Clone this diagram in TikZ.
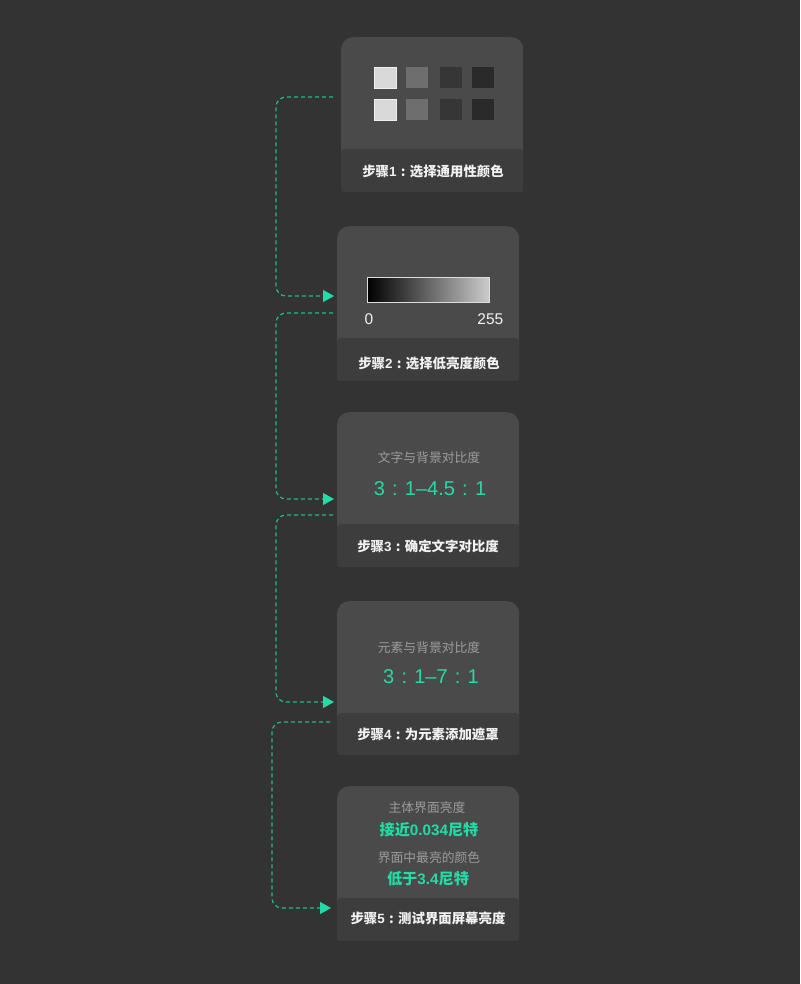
\documentclass[tikz,border=0pt]{standalone}
\usepackage{fontspec}
\setmainfont{Noto Sans CJK SC}
\newfontfamily\hv{Liberation Sans}
\newcommand{\fwcolon}{\makebox[1em][c]{:}}
\usetikzlibrary{arrows.meta}
\definecolor{bg}{HTML}{333333}
\definecolor{cardtop}{HTML}{4A4A4A}
\definecolor{cardbot}{HTML}{3D3D3D}
\definecolor{accent}{HTML}{22DCA6}
\definecolor{linec}{HTML}{21B98C}
\definecolor{greytxt}{HTML}{9C9C9C}
\definecolor{whitetxt}{HTML}{F2F2F2}
\definecolor{swa}{HTML}{D9D9D9}
\definecolor{swaedge}{HTML}{F0F0F0}
\definecolor{swb}{HTML}{6E6E6E}
\definecolor{swc}{HTML}{363636}
\definecolor{swd}{HTML}{2A2A2A}
\definecolor{gradend}{HTML}{CCCCCC}
\definecolor{gradedge}{HTML}{DDDDDD}
\tikzset{
  cardbody/.style={fill=cardtop, rounded corners=12pt, minimum width=182pt, anchor=north west, inner sep=0pt},
  cardfoot/.style={fill=cardbot, rounded corners=3pt, minimum width=182pt, anchor=north west, inner sep=0pt},
  foottext/.style={text=whitetxt, font=\fontsize{13.4}{16}\selectfont\bfseries, inner sep=0pt},
  greylabel/.style={text=greytxt, font=\fontsize{12.8}{15}\selectfont, inner sep=0pt},
  bignum/.style={text=accent, font=\hv\fontsize{20}{24}\selectfont, inner sep=0pt},
  greennum/.style={text=accent, font=\fontsize{15.2}{18}\selectfont\bfseries, inner sep=0pt},
  swatch/.style={minimum width=22pt, minimum height=21pt, inner sep=0pt, anchor=north west},
  conn/.style={draw=linec, line width=1.2pt, dash pattern=on 4pt off 3pt, rounded corners=10pt,
    -{Triangle[length=11pt,width=12pt,fill=accent,color=accent]}},
  numlabel/.style={text=whitetxt, font=\hv\fontsize{15.5}{18}\selectfont, inner sep=0pt}
}
\begin{document}
\begin{tikzpicture}[x=1pt,y=-1pt]
\useasboundingbox (0,0) rectangle (800,984);
\fill[bg] (0,0) rectangle (800,984);

% Card 1
\node[cardbody, minimum height=128pt] (b1) at (341,37) {};
\node[cardfoot, minimum height=43pt] (f1) at (341,149) {};
\node[foottext] (t1) at (433,171) {步骤{\hv 1}\fwcolon 选择通用性颜色};
\node[swatch, fill=swa, draw=swaedge, line width=0.6pt] (s11) at (374,67) {};
\node[swatch, fill=swa, draw=swaedge, line width=0.6pt] (s21) at (374,99) {};
\node[swatch, fill=swb] (s12) at (406,67) {};
\node[swatch, fill=swb] (s22) at (406,99) {};
\node[swatch, fill=swc] (s13) at (440,67) {};
\node[swatch, fill=swc] (s23) at (440,99) {};
\node[swatch, fill=swd] (s14) at (472,67) {};
\node[swatch, fill=swd] (s24) at (472,99) {};

% Card 2
\node[cardbody, minimum height=128pt] (b2) at (337,226) {};
\node[cardfoot, minimum height=43pt] (f2) at (337,338) {};
\node[foottext] (t2) at (429,363) {步骤{\hv 2}\fwcolon 选择低亮度颜色};
\node[minimum width=122pt, minimum height=25pt, inner sep=0pt, anchor=north west,
  left color=black, right color=gradend, draw=gradedge, line width=0.6pt] (grad) at (367,277) {};
\node[numlabel] (n0) at (369,319) {0};
\node[numlabel, anchor=east] (n255) at (503.5,319) {255};

% Card 3
\node[cardbody, minimum height=128pt] (b3) at (337,412) {};
\node[cardfoot, minimum height=43pt] (f3) at (337,524) {};
\node[foottext] (t3) at (428,546) {步骤{\hv 3}\fwcolon 确定文字对比度};
\node[greylabel] (g3) at (429,458) {文字与背景对比度};
\node[bignum] (v3) at (430,489) {3\fwcolon 1–4.5\fwcolon 1};

% Card 4
\node[cardbody, minimum height=128pt] (b4) at (337,601) {};
\node[cardfoot, minimum height=42pt] (f4) at (337,713) {};
\node[foottext] (t4) at (428,734) {步骤{\hv 4}\fwcolon 为元素添加遮罩};
\node[greylabel] (g4) at (429,648) {元素与背景对比度};
\node[bignum] (v4) at (431,677) {3\fwcolon 1–7\fwcolon 1};

% Card 5
\node[cardbody, minimum height=128pt] (b5) at (337,786) {};
\node[cardfoot, minimum height=43pt] (f5) at (337,898) {};
\node[foottext] (t5) at (428,918) {步骤{\hv 5}\fwcolon 测试界面屏幕亮度};
\node[greylabel] (g5a) at (427,808) {主体界面亮度};
\node[greennum] (v5a) at (429,830) {接近{\hv 0.034}尼特};
\node[greylabel] (g5b) at (429,858) {界面中最亮的颜色};
\node[greennum] (v5b) at (428,879) {低于{\hv 3.4}尼特};

% Connectors
\coordinate (c1s) at (333,97);
\coordinate (c1e) at (334,296);
\coordinate (c2s) at (333,313);
\coordinate (c2e) at (334,499);
\coordinate (c3s) at (333,515);
\coordinate (c3e) at (334,702);
\coordinate (c4s) at (330,722);
\coordinate (c4e) at (331,908);
\draw[conn] (c1s) -- ++(-57,0) |- (c1e);
\draw[conn] (c2s) -- ++(-57,0) |- (c2e);
\draw[conn] (c3s) -- ++(-57,0) |- (c3e);
\draw[conn] (c4s) -- ++(-58,0) |- (c4e);
\end{tikzpicture}
\end{document}
